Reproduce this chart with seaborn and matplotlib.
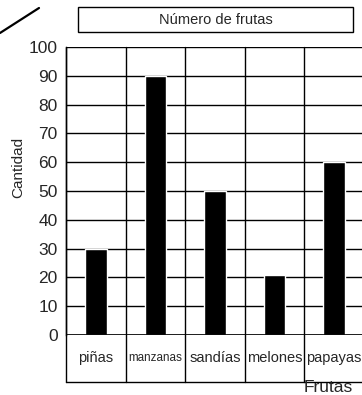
#Gráfico de barras: Número de frutas

import matplotlib.pyplot as plt
from matplotlib.lines import Line2D
from matplotlib.patches import Rectangle
import seaborn as sea

#Datos
frutas = ["piñas", "manzanas", "sandías", "melones", "papayas"]
cantidades = [30, 90, 50, 21, 60]
marcas_y = list(range(0, 101, 10))

sea.set_style("white")
plt.rcParams['font.family'] = ['Liberation Sans', 'DejaVu Sans']

fig = plt.figure(figsize=(3.62, 3.95), dpi=100)
W, H = 362, 395

#Ejes en píxeles: izquierda 66, derecha 364 (se sale un poco), arriba 47, abajo 335
ax = fig.add_axes([66 / W, (H - 335) / H, 298 / W, 288 / H])

sea.barplot(x=frutas, y=cantidades, color="black", width=0.36,
            saturation=1, ax=ax)
ax.set_xlim(-0.5, 4.5)
ax.set_ylim(0, 100)
ax.set_yticks(marcas_y)
ax.set_yticklabels([str(v) for v in marcas_y], fontsize=12.5)
ax.tick_params(axis="y", length=0, pad=6)
ax.set_xticks([])
ax.set_xlabel("")
ax.set_ylabel("")
ax.set_axisbelow(True)

#Cuadrícula negra
ax.yaxis.grid(True, color="black", lw=1)
for s in ["top", "right", "bottom"]:
    ax.spines[s].set_visible(False)
ax.spines["left"].set_color("black")
ax.spines["left"].set_linewidth(1)

#Separadores de columnas, que siguen hasta la fila de etiquetas
fila = 47 / 288
for xv in [-0.5, 0.5, 1.5, 2.5, 3.5]:
    ax.axvline(xv, ymin=-fila, ymax=1, color="black", lw=1, clip_on=False)
ax.axhline(0, color="black", lw=1.2)
ax.plot([-0.5, 4.6], [-fila * 100, -fila * 100], color="black", lw=1,
        clip_on=False)

#Etiquetas de categoría dentro de las cajas
for i, f in enumerate(frutas):
    tam = 8.4 if f == "manzanas" else 10.5
    ax.text(i, -fila * 48, f, ha="center", va="center", fontsize=tam)

#Título en recuadro
fig.patches.append(Rectangle((78 / W, (H - 32) / H), 275 / W, 25 / H,
                             transform=fig.transFigure, fill=False,
                             edgecolor="black", lw=1))
fig.text(216 / W, (H - 20) / H, "Número de frutas", ha="center",
         va="center", fontsize=10.5)

#Línea diagonal de la esquina
fig.add_artist(Line2D([0, 39 / W], [(H - 33) / H, (H - 8) / H],
                      transform=fig.transFigure, color="black", lw=1.6))

#Etiquetas de ejes
fig.text(18 / W, (H - 167) / H, "Cantidad", rotation=90, ha="center",
         va="center", fontsize=11)
fig.text(304 / W, 0.0, "Frutas", ha="left", va="bottom", fontsize=12.5)

plt.savefig("out.png", dpi=100)
